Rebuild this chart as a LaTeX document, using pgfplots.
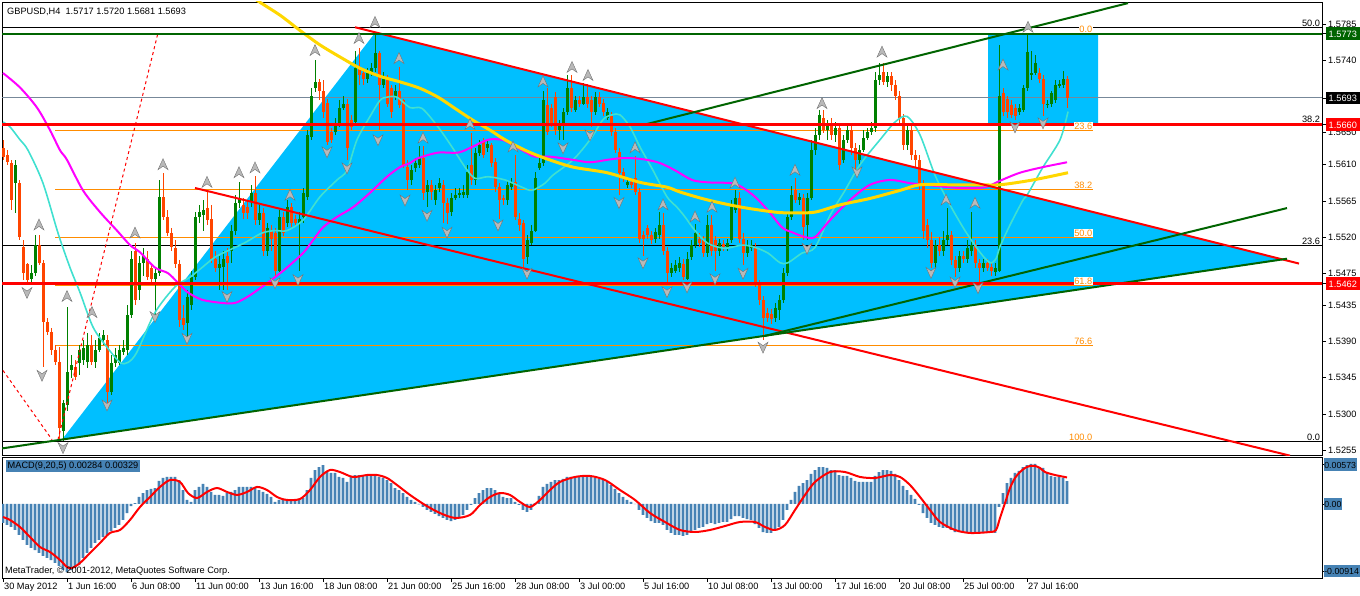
\documentclass[border=0pt]{standalone}
\usepackage{pgfplots}
\pgfplotsset{compat=1.18}
\usepackage{pgfplotstable}
\usepackage{fontspec}
\setmainfont{Liberation Sans}
\definecolor{bull}{HTML}{008000}
\definecolor{bear}{HTML}{FF4500}
\definecolor{sky}{HTML}{00BFFF}
\definecolor{turq}{HTML}{40E0D0}
\definecolor{mag}{HTML}{FF00FF}
\definecolor{gold}{HTML}{FFD700}
\definecolor{dgreen}{HTML}{006400}
\definecolor{dorange}{HTML}{FF8C00}
\definecolor{slate}{HTML}{778899}
\definecolor{steel}{HTML}{4682B4}
\newcommand\mtfont{\fontsize{9.25}{11}\selectfont}
\newcommand\mlfont{\fontsize{8.8}{11}\selectfont}
\newcommand\pl[2]{{\setlength\fboxsep{0pt}\colorbox{#1}{\rule[-2.5bp]{0pt}{12.5bp}\hspace{2.5bp}\textcolor{white}{#2}\hspace{4bp}}}}
\newcommand\ml[1]{{\setlength\fboxsep{0pt}\colorbox{steel}{\rule[-2.5bp]{0pt}{12.5bp}\hspace{0.6bp}#1\hspace{0.6bp}}}}
\pgfdeclareplotmark{fup}{%
  \pgfpathmoveto{\pgfqpoint{0bp}{6bp}}%
  \pgfpathlineto{\pgfqpoint{5bp}{-5bp}}%
  \pgfpathlineto{\pgfqpoint{0bp}{-1.5bp}}%
  \pgfpathlineto{\pgfqpoint{-5bp}{-5bp}}%
  \pgfpathclose\pgfusepathqfillstroke}
\pgfdeclareplotmark{fdn}{%
  \pgfpathmoveto{\pgfqpoint{0bp}{-6bp}}%
  \pgfpathlineto{\pgfqpoint{5bp}{5bp}}%
  \pgfpathlineto{\pgfqpoint{0bp}{1.5bp}}%
  \pgfpathlineto{\pgfqpoint{-5bp}{5bp}}%
  \pgfpathclose\pgfusepathqfillstroke}

\pgfplotstableread{
x o h l c
3 1.5631 1.5641 1.5616 1.5620
7 1.5622 1.5628 1.5610 1.5613
11 1.5612 1.5616 1.5553 1.5566
15 1.5587 1.5616 1.5550 1.5610
19 1.5587 1.5591 1.5516 1.5520
23 1.5507 1.5516 1.5467 1.5475
27 1.5487 1.5488 1.5461 1.5467
31 1.5468 1.5485 1.5463 1.5475
35 1.5475 1.5522 1.5472 1.5510
39 1.5510 1.5522 1.5485 1.5488
43 1.5488 1.5491 1.5358 1.5414
47 1.5414 1.5419 1.5398 1.5402
51 1.5402 1.5407 1.5373 1.5379
55 1.5379 1.5386 1.5361 1.5364
59 1.5364 1.5383 1.5267 1.5282
63 1.5279 1.5317 1.5266 1.5313
67 1.5311 1.5433 1.5304 1.5352
71 1.5354 1.5373 1.5344 1.5361
75 1.5358 1.5367 1.5342 1.5346
79 1.5363 1.5386 1.5348 1.5379
83 1.5367 1.5392 1.5361 1.5382
87 1.5364 1.5401 1.5357 1.5386
91 1.5386 1.5398 1.5361 1.5364
95 1.5364 1.5392 1.5357 1.5379
99 1.5379 1.5401 1.5377 1.5394
103 1.5392 1.5404 1.5386 1.5398
107 1.5392 1.5398 1.5311 1.5327
111 1.5327 1.5373 1.5323 1.5363
115 1.5363 1.5382 1.5358 1.5373
119 1.5363 1.5386 1.5361 1.5379
123 1.5377 1.5392 1.5373 1.5382
127 1.5379 1.5436 1.5373 1.5423
131 1.5423 1.5503 1.5419 1.5493
135 1.5503 1.5512 1.5436 1.5442
139 1.5454 1.5497 1.5442 1.5488
143 1.5488 1.5506 1.5472 1.5497
147 1.5493 1.5503 1.5467 1.5470
151 1.5481 1.5488 1.5461 1.5468
155 1.5468 1.5481 1.5417 1.5475
159 1.5475 1.5591 1.5471 1.5570
163 1.5570 1.5600 1.5541 1.5545
167 1.5545 1.5553 1.5521 1.5525
171 1.5525 1.5531 1.5503 1.5507
175 1.5506 1.5516 1.5481 1.5487
179 1.5487 1.5491 1.5408 1.5417
183 1.5419 1.5436 1.5404 1.5411
187 1.5413 1.5454 1.5394 1.5446
191 1.5436 1.5478 1.5429 1.5470
195 1.5470 1.5551 1.5467 1.5545
199 1.5545 1.5560 1.5538 1.5551
203 1.5547 1.5566 1.5528 1.5553
207 1.5556 1.5578 1.5535 1.5541
211 1.5543 1.5560 1.5488 1.5493
215 1.5493 1.5503 1.5476 1.5481
219 1.5481 1.5497 1.5454 1.5487
223 1.5483 1.5503 1.5454 1.5493
227 1.5497 1.5506 1.5454 1.5488
231 1.5503 1.5535 1.5488 1.5528
235 1.5528 1.5572 1.5522 1.5562
239 1.5562 1.5588 1.5556 1.5568
243 1.5560 1.5568 1.5543 1.5550
247 1.5557 1.5566 1.5543 1.5550
251 1.5563 1.5585 1.5557 1.5575
255 1.5575 1.5596 1.5535 1.5541
259 1.5541 1.5560 1.5535 1.5550
263 1.5550 1.5556 1.5497 1.5503
267 1.5503 1.5538 1.5497 1.5531
271 1.5528 1.5535 1.5503 1.5518
275 1.5525 1.5531 1.5471 1.5478
279 1.5478 1.5553 1.5476 1.5545
283 1.5545 1.5551 1.5521 1.5525
287 1.5538 1.5566 1.5533 1.5557
291 1.5557 1.5562 1.5533 1.5537
295 1.5543 1.5548 1.5533 1.5538
299 1.5538 1.5551 1.5478 1.5543
303 1.5545 1.5581 1.5538 1.5575
307 1.5570 1.5653 1.5566 1.5647
311 1.5645 1.5705 1.5641 1.5696
315 1.5706 1.5740 1.5700 1.5713
319 1.5713 1.5717 1.5690 1.5702
323 1.5702 1.5715 1.5668 1.5675
327 1.5687 1.5692 1.5635 1.5638
331 1.5651 1.5656 1.5637 1.5641
335 1.5651 1.5668 1.5647 1.5662
339 1.5662 1.5690 1.5657 1.5681
343 1.5681 1.5696 1.5678 1.5686
347 1.5686 1.5692 1.5616 1.5631
351 1.5666 1.5672 1.5653 1.5657
355 1.5663 1.5752 1.5660 1.5730
359 1.5730 1.5755 1.5709 1.5721
363 1.5724 1.5730 1.5709 1.5717
367 1.5717 1.5730 1.5712 1.5724
371 1.5724 1.5737 1.5720 1.5730
375 1.5730 1.5774 1.5725 1.5749
379 1.5749 1.5752 1.5653 1.5709
383 1.5709 1.5725 1.5705 1.5717
387 1.5717 1.5721 1.5682 1.5686
391 1.5705 1.5709 1.5668 1.5676
395 1.5694 1.5709 1.5690 1.5702
399 1.5702 1.5731 1.5680 1.5684
403 1.5690 1.5692 1.5606 1.5610
407 1.5607 1.5616 1.5578 1.5591
411 1.5591 1.5610 1.5585 1.5603
415 1.5606 1.5618 1.5601 1.5612
419 1.5610 1.5633 1.5606 1.5618
423 1.5618 1.5633 1.5566 1.5575
427 1.5576 1.5591 1.5557 1.5585
431 1.5585 1.5591 1.5566 1.5576
435 1.5566 1.5585 1.5560 1.5578
439 1.5581 1.5593 1.5576 1.5587
443 1.5585 1.5591 1.5538 1.5562
447 1.5562 1.5568 1.5536 1.5550
451 1.5551 1.5575 1.5546 1.5568
455 1.5568 1.5581 1.5566 1.5572
459 1.5572 1.5581 1.5568 1.5575
463 1.5572 1.5585 1.5568 1.5576
467 1.5572 1.5610 1.5568 1.5601
471 1.5610 1.5650 1.5585 1.5591
475 1.5591 1.5631 1.5585 1.5625
479 1.5625 1.5641 1.5621 1.5635
483 1.5638 1.5643 1.5618 1.5622
487 1.5631 1.5641 1.5626 1.5636
491 1.5635 1.5637 1.5607 1.5612
495 1.5613 1.5618 1.5576 1.5582
499 1.5582 1.5587 1.5543 1.5566
503 1.5568 1.5572 1.5560 1.5566
507 1.5566 1.5591 1.5560 1.5585
511 1.5582 1.5593 1.5578 1.5588
515 1.5588 1.5622 1.5541 1.5545
519 1.5543 1.5550 1.5528 1.5535
523 1.5537 1.5541 1.5483 1.5493
527 1.5495 1.5522 1.5487 1.5516
531 1.5513 1.5535 1.5510 1.5528
535 1.5528 1.5601 1.5526 1.5593
539 1.5606 1.5618 1.5603 1.5612
543 1.5612 1.5702 1.5608 1.5690
547 1.5684 1.5705 1.5647 1.5651
551 1.5680 1.5685 1.5657 1.5662
555 1.5694 1.5700 1.5647 1.5653
559 1.5653 1.5666 1.5641 1.5660
563 1.5660 1.5680 1.5641 1.5675
567 1.5675 1.5721 1.5672 1.5705
571 1.5705 1.5721 1.5676 1.5680
575 1.5678 1.5696 1.5675 1.5690
579 1.5690 1.5695 1.5682 1.5686
583 1.5686 1.5711 1.5684 1.5694
587 1.5694 1.5710 1.5680 1.5686
591 1.5690 1.5695 1.5657 1.5676
595 1.5676 1.5700 1.5672 1.5694
599 1.5694 1.5700 1.5682 1.5686
603 1.5687 1.5692 1.5671 1.5676
607 1.5668 1.5680 1.5665 1.5675
611 1.5670 1.5675 1.5646 1.5651
615 1.5651 1.5656 1.5625 1.5628
619 1.5626 1.5631 1.5572 1.5600
623 1.5601 1.5606 1.5588 1.5593
627 1.5585 1.5593 1.5581 1.5588
631 1.5588 1.5593 1.5581 1.5585
635 1.5593 1.5621 1.5572 1.5576
639 1.5576 1.5581 1.5513 1.5518
643 1.5522 1.5528 1.5497 1.5518
647 1.5531 1.5535 1.5518 1.5522
651 1.5522 1.5527 1.5511 1.5516
655 1.5518 1.5531 1.5513 1.5526
659 1.5522 1.5551 1.5518 1.5535
663 1.5535 1.5550 1.5498 1.5503
667 1.5503 1.5508 1.5461 1.5475
671 1.5475 1.5488 1.5470 1.5482
675 1.5478 1.5491 1.5475 1.5485
679 1.5481 1.5495 1.5476 1.5488
683 1.5487 1.5493 1.5467 1.5470
687 1.5468 1.5501 1.5466 1.5493
691 1.5495 1.5516 1.5491 1.5510
695 1.5510 1.5536 1.5506 1.5525
699 1.5518 1.5525 1.5507 1.5512
703 1.5516 1.5521 1.5495 1.5500
707 1.5500 1.5547 1.5495 1.5535
711 1.5535 1.5547 1.5497 1.5503
715 1.5516 1.5521 1.5478 1.5503
719 1.5503 1.5518 1.5497 1.5512
723 1.5511 1.5516 1.5503 1.5507
727 1.5507 1.5518 1.5503 1.5512
731 1.5516 1.5566 1.5512 1.5557
735 1.5553 1.5578 1.5550 1.5568
739 1.5568 1.5576 1.5513 1.5518
743 1.5518 1.5525 1.5485 1.5500
747 1.5500 1.5516 1.5495 1.5510
751 1.5506 1.5516 1.5503 1.5510
755 1.5507 1.5512 1.5458 1.5463
759 1.5463 1.5467 1.5436 1.5442
763 1.5442 1.5447 1.5392 1.5419
767 1.5426 1.5432 1.5414 1.5419
771 1.5424 1.5430 1.5412 1.5418
775 1.5419 1.5438 1.5414 1.5432
779 1.5429 1.5448 1.5417 1.5442
783 1.5442 1.5481 1.5438 1.5475
787 1.5475 1.5551 1.5471 1.5545
791 1.5545 1.5583 1.5541 1.5572
795 1.5578 1.5593 1.5562 1.5566
799 1.5566 1.5575 1.5560 1.5570
803 1.5568 1.5573 1.5516 1.5532
807 1.5535 1.5575 1.5516 1.5568
811 1.5568 1.5641 1.5566 1.5628
815 1.5628 1.5656 1.5622 1.5647
819 1.5647 1.5678 1.5641 1.5672
823 1.5668 1.5678 1.5650 1.5653
827 1.5653 1.5666 1.5641 1.5660
831 1.5660 1.5668 1.5641 1.5647
835 1.5647 1.5663 1.5638 1.5656
839 1.5656 1.5660 1.5603 1.5610
843 1.5616 1.5647 1.5612 1.5641
847 1.5641 1.5660 1.5637 1.5653
851 1.5653 1.5660 1.5622 1.5631
855 1.5631 1.5637 1.5603 1.5616
859 1.5616 1.5635 1.5610 1.5628
863 1.5628 1.5653 1.5626 1.5643
867 1.5643 1.5656 1.5641 1.5651
871 1.5651 1.5663 1.5647 1.5656
875 1.5656 1.5725 1.5651 1.5715
879 1.5715 1.5737 1.5709 1.5721
883 1.5725 1.5737 1.5709 1.5713
887 1.5713 1.5725 1.5707 1.5720
891 1.5720 1.5725 1.5702 1.5709
895 1.5709 1.5715 1.5690 1.5696
899 1.5696 1.5702 1.5660 1.5668
903 1.5668 1.5673 1.5628 1.5635
907 1.5635 1.5660 1.5628 1.5653
911 1.5653 1.5658 1.5616 1.5622
915 1.5622 1.5628 1.5606 1.5616
919 1.5616 1.5622 1.5578 1.5585
923 1.5585 1.5591 1.5518 1.5528
927 1.5535 1.5543 1.5506 1.5516
931 1.5516 1.5526 1.5481 1.5488
935 1.5488 1.5516 1.5481 1.5510
939 1.5510 1.5520 1.5497 1.5503
943 1.5503 1.5528 1.5497 1.5516
947 1.5516 1.5556 1.5510 1.5522
951 1.5522 1.5528 1.5485 1.5491
955 1.5491 1.5497 1.5470 1.5481
959 1.5481 1.5503 1.5476 1.5497
963 1.5497 1.5503 1.5488 1.5493
967 1.5493 1.5516 1.5488 1.5506
971 1.5503 1.5551 1.5497 1.5510
975 1.5510 1.5516 1.5481 1.5488
979 1.5488 1.5493 1.5463 1.5481
983 1.5481 1.5493 1.5476 1.5488
987 1.5488 1.5493 1.5478 1.5482
991 1.5483 1.5488 1.5472 1.5478
995 1.5476 1.5488 1.5472 1.5481
999 1.5478 1.5759 1.5476 1.5696
1003 1.5699 1.5705 1.5671 1.5675
1007 1.5692 1.5696 1.5668 1.5675
1011 1.5684 1.5690 1.5668 1.5672
1015 1.5681 1.5686 1.5666 1.5670
1019 1.5676 1.5686 1.5672 1.5681
1023 1.5678 1.5709 1.5675 1.5705
1027 1.5705 1.5773 1.5702 1.5750
1031 1.5721 1.5752 1.5715 1.5724
1035 1.5724 1.5746 1.5721 1.5736
1039 1.5724 1.5730 1.5712 1.5717
1043 1.5717 1.5721 1.5670 1.5686
1047 1.5684 1.5690 1.5680 1.5686
1051 1.5686 1.5702 1.5682 1.5699
1055 1.5690 1.5715 1.5687 1.5709
1059 1.5709 1.5715 1.5706 1.5710
1063 1.5709 1.5727 1.5706 1.5717
1067 1.5717 1.5720 1.5681 1.5693
}\candles

\pgfplotstableread{
x v
3 -0.00235
7 -0.00260
11 -0.00285
15 -0.00322
19 -0.00384
23 -0.00446
27 -0.00508
31 -0.00545
35 -0.00570
39 -0.00607
43 -0.00644
47 -0.00669
51 -0.00694
55 -0.00731
59 -0.00768
63 -0.00818
67 -0.00843
71 -0.00818
75 -0.00793
79 -0.00756
83 -0.00669
87 -0.00607
91 -0.00545
95 -0.00483
99 -0.00446
103 -0.00409
107 -0.00384
111 -0.00335
115 -0.00297
119 -0.00260
123 -0.00198
127 -0.00112
131 -0.00025
135 0.00012
139 0.00087
143 0.00136
147 0.00173
151 0.00186
155 0.00198
159 0.00285
163 0.00322
167 0.00335
171 0.00335
175 0.00335
179 0.00297
183 0.00173
187 0.00050
191 0.00025
195 0.00173
199 0.00211
203 0.00248
207 0.00211
211 0.00149
215 0.00112
219 0.00112
223 0.00099
227 0.00136
231 0.00149
235 0.00173
239 0.00211
243 0.00211
247 0.00211
251 0.00211
255 0.00198
259 0.00173
263 0.00149
267 0.00124
271 0.00087
275 0.00025
279 0.00050
283 0.00050
287 0.00050
291 0.00050
295 0.00050
299 0.00062
303 0.00074
307 0.00173
311 0.00322
315 0.00421
319 0.00458
323 0.00483
327 0.00396
331 0.00384
335 0.00384
339 0.00335
343 0.00322
347 0.00273
351 0.00335
355 0.00359
359 0.00359
363 0.00359
367 0.00359
371 0.00359
375 0.00359
379 0.00335
383 0.00322
387 0.00297
391 0.00260
395 0.00198
399 0.00173
403 0.00136
407 0.00087
411 0.00050
415 0.00025
419 -0.00005
423 -0.00037
427 -0.00074
431 -0.00099
435 -0.00124
439 -0.00149
443 -0.00173
447 -0.00198
451 -0.00211
455 -0.00198
459 -0.00173
463 -0.00136
467 -0.00074
471 -0.00012
475 0.00074
479 0.00136
483 0.00173
487 0.00198
491 0.00198
495 0.00173
499 0.00124
503 0.00087
507 0.00074
511 0.00074
515 0.00025
519 -0.00012
523 -0.00074
527 -0.00099
531 -0.00074
535 0.00012
539 0.00099
543 0.00211
547 0.00248
551 0.00273
555 0.00297
559 0.00297
563 0.00310
567 0.00335
571 0.00335
575 0.00335
579 0.00335
583 0.00347
587 0.00347
591 0.00335
595 0.00322
599 0.00310
603 0.00297
607 0.00273
611 0.00235
615 0.00186
619 0.00136
623 0.00087
627 0.00050
631 0.00025
635 -0.00003
639 -0.00074
643 -0.00136
647 -0.00173
651 -0.00211
655 -0.00235
659 -0.00235
663 -0.00260
667 -0.00322
671 -0.00359
675 -0.00384
679 -0.00384
683 -0.00396
687 -0.00384
691 -0.00359
695 -0.00322
699 -0.00297
703 -0.00285
707 -0.00248
711 -0.00235
715 -0.00248
719 -0.00235
723 -0.00223
727 -0.00223
731 -0.00186
735 -0.00149
739 -0.00149
743 -0.00173
747 -0.00186
751 -0.00198
755 -0.00248
759 -0.00297
763 -0.00347
767 -0.00359
771 -0.00359
775 -0.00322
779 -0.00285
783 -0.00198
787 -0.00074
791 0.00050
795 0.00149
799 0.00223
803 0.00260
807 0.00297
811 0.00372
815 0.00421
819 0.00458
823 0.00458
827 0.00446
831 0.00421
835 0.00421
839 0.00359
843 0.00347
847 0.00347
851 0.00322
855 0.00285
859 0.00273
863 0.00273
867 0.00273
871 0.00273
875 0.00347
879 0.00396
883 0.00421
887 0.00421
891 0.00409
895 0.00372
899 0.00297
903 0.00223
907 0.00173
911 0.00112
915 0.00062
919 -0.00012
923 -0.00112
927 -0.00173
931 -0.00235
935 -0.00260
939 -0.00285
943 -0.00297
947 -0.00297
951 -0.00322
955 -0.00347
959 -0.00347
963 -0.00359
967 -0.00359
971 -0.00347
975 -0.00359
979 -0.00359
983 -0.00359
987 -0.00359
991 -0.00359
995 -0.00359
999 -0.00037
1003 0.00136
1007 0.00260
1011 0.00322
1015 0.00384
1019 0.00409
1023 0.00458
1027 0.00483
1031 0.00496
1035 0.00496
1039 0.00458
1043 0.00446
1047 0.00384
1051 0.00347
1055 0.00335
1059 0.00335
1063 0.00322
1067 0.00284
}\macdhist

\begin{document}
\begin{tikzpicture}[x=1bp,y=1bp]
\useasboundingbox (0,0) rectangle (1360,-596);
\begin{axis}[
  at={(2bp,-455bp)}, anchor=south west,
  scale only axis, width=1320bp, height=453bp,
  xmin=2, xmax=1322, ymin=1.52488, ymax=1.58124,
  xtick=\empty, scaled ticks=false,
  ytick={1.5255,1.5300,1.5345,1.5390,1.5435,1.5475,1.5520,1.5565,1.5610,1.5650,1.5740,1.5785},
  yticklabels={1.5255,1.5300,1.5345,1.5390,1.5435,1.5475,1.5520,1.5565,1.5610,1.5650,1.5740,1.5785},
  ytick pos=right, yticklabel pos=right, ytick align=outside,
  major tick length=4bp,
  tick style={black, line width=0.7bp},
  yticklabel style={anchor=west, inner sep=0pt, xshift=2bp, font=\mtfont},
  extra y ticks={1.5773,1.5693,1.5660,1.5462},
  extra y tick labels={{\pl{dgreen}{1.5773}},{\pl{black}{1.5693}},{\pl{red}{1.5660}},{\pl{red}{1.5462}}},
  extra y tick style={yticklabel style={xshift=-2bp}},
  axis line style={black, line width=0.8bp},
]
% background objects
\addplot[fill=sky, draw=none, forget plot] coordinates {(62,1.5268) (375,1.5774) (1285,1.5492) (62,1.5268)};
\addplot[fill=sky, draw=none, forget plot] coordinates {(988,1.5773) (1098,1.5773) (1098,1.5661) (988,1.5661) (988,1.5773)};
% fibo (orange) and other thin levels
\addplot[dorange, line width=1bp, forget plot] coordinates {(55,1.5653) (1093,1.5653)};
\addplot[dorange, line width=1bp, forget plot] coordinates {(55,1.5579) (1093,1.5579)};
\addplot[dorange, line width=1bp, forget plot] coordinates {(55,1.5520) (1093,1.5520)};
\addplot[dorange, line width=1bp, forget plot] coordinates {(55,1.5460) (1093,1.5460)};
\addplot[dorange, line width=1bp, forget plot] coordinates {(55,1.5385) (1093,1.5385)};
\addplot[dorange, line width=1bp, forget plot] coordinates {(55,1.5266) (1093,1.5266)};
\addplot[black, line width=1bp, forget plot] coordinates {(2,1.5781) (1322,1.5781)};
\addplot[black, line width=1bp, forget plot] coordinates {(2,1.5509) (1322,1.5509)};
\addplot[black, line width=1bp, forget plot] coordinates {(2,1.5266) (1093,1.5266)};
\addplot[black, line width=1bp, forget plot] coordinates {(1093,1.5266) (1322,1.5266)};
\addplot[slate, line width=1bp, forget plot] coordinates {(2,1.5693) (1322,1.5693)};
% candles
\addplot[draw=none, mark=none, forget plot,
  restrict expr to domain={\thisrow{c}-\thisrow{o}}{0:1},
  error bars/.cd, y dir=both, y explicit, error mark=none,
  error bar style={draw=bull, line width=1bp}]
  table[x=x, y expr={0.5*(\thisrow{h}+\thisrow{l})}, y error expr={0.5*(\thisrow{h}-\thisrow{l})}]{\candles};
\addplot[draw=none, mark=none, forget plot,
  restrict expr to domain={\thisrow{c}-\thisrow{o}}{0:1},
  error bars/.cd, y dir=both, y explicit, error mark=none,
  error bar style={draw=bull, line width=3bp}]
  table[x=x, y expr={0.5*(\thisrow{o}+\thisrow{c})}, y error expr={0.5*(\thisrow{c}-\thisrow{o})}]{\candles};
\addplot[draw=none, mark=none, forget plot,
  restrict expr to domain={\thisrow{c}-\thisrow{o}}{-1:-0.00001},
  error bars/.cd, y dir=both, y explicit, error mark=none,
  error bar style={draw=bear, line width=1bp}]
  table[x=x, y expr={0.5*(\thisrow{h}+\thisrow{l})}, y error expr={0.5*(\thisrow{h}-\thisrow{l})}]{\candles};
\addplot[draw=none, mark=none, forget plot,
  restrict expr to domain={\thisrow{c}-\thisrow{o}}{-1:-0.00001},
  error bars/.cd, y dir=both, y explicit, error mark=none,
  error bar style={draw=bear, line width=3bp}]
  table[x=x, y expr={0.5*(\thisrow{o}+\thisrow{c})}, y error expr={0.5*(\thisrow{o}-\thisrow{c})}]{\candles};
% moving averages
\addplot[turq, line width=1.6bp, smooth, forget plot] coordinates {(3,1.5663)(10,1.5657)(20,1.5641)(28,1.5628)(43,1.5587)(58,1.5525)(70,1.5482)(80,1.5451)(93,1.5408)(107,1.5383)(120,1.5364)(128,1.5364)(137,1.5377)(155,1.5426)(175,1.5458)(190,1.5470)(202,1.5482)(215,1.5495)(228,1.5503)(245,1.5513)(262,1.5525)(275,1.5528)(287,1.5528)(303,1.5541)(320,1.5570)(337,1.5591)(347,1.5603)(357,1.5641)(370,1.5670)(380,1.5690)(387,1.5694)(397,1.5694)(410,1.5681)(422,1.5680)(438,1.5657)(452,1.5632)(465,1.5607)(475,1.5593)(488,1.5595)(505,1.5591)(522,1.5582)(532,1.5578)(545,1.5587)(553,1.5597)(573,1.5616)(590,1.5641)(603,1.5666)(612,1.5672)(620,1.5672)(630,1.5657)(640,1.5632)(653,1.5603)(667,1.5570)(677,1.5557)(685,1.5545)(695,1.5528)(708,1.5512)(725,1.5506)(742,1.5510)(755,1.5507)(768,1.5500)(780,1.5488)(788,1.5488)(802,1.5500)(815,1.5507)(830,1.5547)(845,1.5578)(860,1.5610)(880,1.5641)(895,1.5663)(907,1.5670)(920,1.5647)(935,1.5597)(950,1.5560)(965,1.5528)(980,1.5501)(990,1.5488)(996,1.5493)(1000,1.5508)(1010,1.5535)(1023,1.5566)(1027,1.5572)(1043,1.5607)(1060,1.5641)(1068,1.5676)};
\addplot[mag, line width=2bp, smooth, forget plot] coordinates {(3,1.5724)(20,1.5706)(37,1.5681)(50,1.5653)(60,1.5628)(67,1.5616)(83,1.5578)(100,1.5551)(117,1.5528)(130,1.5510)(140,1.5501)(155,1.5482)(168,1.5475)(178,1.5463)(188,1.5451)(202,1.5442)(222,1.5438)(235,1.5438)(248,1.5446)(262,1.5458)(275,1.5470)(287,1.5482)(303,1.5500)(313,1.5516)(323,1.5532)(337,1.5545)(353,1.5557)(370,1.5575)(387,1.5595)(400,1.5607)(410,1.5612)(418,1.5618)(438,1.5625)(458,1.5625)(472,1.5632)(488,1.5641)(502,1.5641)(512,1.5635)(525,1.5626)(535,1.5620)(550,1.5620)(573,1.5616)(590,1.5613)(607,1.5616)(620,1.5618)(633,1.5618)(647,1.5616)(660,1.5612)(675,1.5603)(692,1.5591)(708,1.5588)(732,1.5587)(742,1.5582)(755,1.5570)(768,1.5553)(782,1.5532)(792,1.5526)(805,1.5520)(815,1.5520)(830,1.5541)(850,1.5566)(870,1.5585)(890,1.5591)(910,1.5587)(925,1.5585)(960,1.5581)(985,1.5582)(1000,1.5590)(1020,1.5600)(1043,1.5607)(1067,1.5613)};
\addplot[gold, line width=3bp, smooth, forget plot] coordinates {(245,1.5825)(260,1.5812)(280,1.5796)(300,1.5777)(320,1.5759)(340,1.5744)(360,1.5730)(380,1.5720)(400,1.5713)(420,1.5705)(438,1.5694)(455,1.5680)(472,1.5666)(490,1.5653)(505,1.5641)(525,1.5628)(545,1.5618)(573,1.5607)(607,1.5600)(640,1.5588)(667,1.5582)(680,1.5576)(708,1.5566)(742,1.5557)(775,1.5551)(792,1.5550)(815,1.5551)(840,1.5560)(870,1.5568)(900,1.5578)(920,1.5585)(950,1.5585)(980,1.5585)(1000,1.5585)(1033,1.5591)(1068,1.5600)};
% trend lines
\addplot[red, line width=2bp, forget plot] coordinates {(355,1.5781) (1299,1.5487)};
\addplot[red, line width=2bp, forget plot] coordinates {(195,1.5581) (1290,1.5248)};
\addplot[red, line width=1bp, dash pattern=on 3bp off 3bp, forget plot] coordinates {(58,1.5268) (158,1.5774)};
\addplot[red, line width=1bp, dash pattern=on 3bp off 3bp, forget plot] coordinates {(3,1.5354) (52,1.5268)};
\addplot[dgreen, line width=2bp, forget plot] coordinates {(645,1.5660) (1128,1.5811)};
\addplot[dgreen, line width=2bp, forget plot] coordinates {(2,1.5257) (1287,1.5493)};
\addplot[dgreen, line width=2bp, forget plot] coordinates {(765,1.5397) (1287,1.5556)};
% horizontal levels
\addplot[red, line width=2.5bp, forget plot] coordinates {(2,1.5660) (1322,1.5660)};
\addplot[red, line width=2.5bp, forget plot] coordinates {(2,1.5462) (1322,1.5462)};
\addplot[dgreen, line width=2.2bp, forget plot] coordinates {(2,1.5773) (1322,1.5773)};
% fractals
\addplot[only marks, mark=fup, mark options={fill=gray!55, draw=gray!90!black, line width=0.4bp}, forget plot] coordinates {(39,1.5535)(67,1.5446)(92,1.5426)(135,1.5525)(163,1.5610)(207,1.5588)(239,1.5600)(255,1.5606)(290,1.5572)(315,1.5752)(359,1.5767)(375,1.5787)(399,1.5742)(423,1.5643)(470,1.5660)(513,1.5632)(543,1.5713)(572,1.5731)(588,1.5721)(635,1.5631)(663,1.5560)(695,1.5545)(712,1.5557)(735,1.5587)(795,1.5603)(822,1.5686)(882,1.5750)(946,1.5566)(975,1.5562)(1003,1.5734)(1028,1.5781)};
\addplot[only marks, mark=fdn, mark options={fill=gray!55, draw=gray!90!black, line width=0.4bp}, forget plot] coordinates {(27,1.5451)(42,1.5348)(63,1.5258)(107,1.5311)(155,1.5421)(187,1.5394)(227,1.5446)(275,1.5463)(298,1.5467)(327,1.5626)(347,1.5606)(378,1.5641)(405,1.5566)(427,1.5547)(447,1.5526)(498,1.5535)(527,1.5475)(563,1.5631)(590,1.5647)(619,1.5563)(643,1.5488)(667,1.5452)(687,1.5458)(715,1.5468)(743,1.5475)(763,1.5383)(807,1.5506)(857,1.5601)(931,1.5476)(955,1.5464)(978,1.5457)(1015,1.5657)(1043,1.5662)};
% labels
\node[anchor=west, inner sep=0pt, font=\mtfont, xshift=5bp, yshift=-10bp] at (rel axis cs:0,1) {GBPUSD,H4\ \ 1.5717 1.5720 1.5681 1.5693};
\foreach \lv/\lt in {1.5773/0.0, 1.5653/23.6, 1.5579/38.2, 1.5520/50.0, 1.5460/61.8, 1.5385/76.6, 1.5266/100.0}{
  \edef\tmp{\noexpand\node[anchor=south east, fill=white, text=dorange, inner sep=0.6bp, font=\noexpand\mtfont] at (axis cs:1093,\lv) {\lt};}\tmp
}
\foreach \lv/\lt in {1.5781/50.0, 1.5661/38.2, 1.5509/23.6, 1.5266/0.0}{
  \edef\tmp{\noexpand\node[anchor=south east, text=black, inner sep=0.8bp, font=\noexpand\mtfont] at (axis cs:1321,\lv) {\lt};}\tmp
}
\end{axis}

\begin{axis}[
  at={(2bp,-578bp)}, anchor=south west,
  scale only axis, width=1320bp, height=121bp,
  xmin=2, xmax=1322, ymin=-0.00917, ymax=0.00582,
  scaled ticks=false,
  xtick={3,67,131,195,259,323,387,451,515,579,643,707,771,835,899,963,1027},
  xticklabels={30 May 2012,1 Jun 16:00,6 Jun 08:00,11 Jun 00:00,13 Jun 16:00,18 Jun 08:00,21 Jun 00:00,25 Jun 16:00,28 Jun 08:00,3 Jul 00:00,5 Jul 16:00,10 Jul 08:00,13 Jul 00:00,17 Jul 16:00,20 Jul 08:00,25 Jul 00:00,27 Jul 16:00},
  xtick pos=left, xtick align=outside,
  xticklabel style={anchor=north west, inner sep=0pt, xshift=1bp, yshift=-1bp, font=\mtfont},
  ytick={-0.0083,0,0.0049},
  yticklabels={{\ml{-0.00914}},{\ml{0.00}},{\ml{0.00573}}},
  ytick pos=right, yticklabel pos=right, ytick align=outside,
  major tick length=4bp,
  tick style={black, line width=0.7bp},
  yticklabel style={anchor=west, inner sep=0pt, xshift=-2.5bp, font=\mlfont},
  axis line style={black, line width=0.8bp},
]
\addplot[ybar, bar width=2.8bp, fill=steel, draw=none, forget plot] table[x=x, y=v]{\macdhist};
\addplot[red, line width=2bp, smooth, forget plot] coordinates {(3,-0.00161)(10,-0.00198)(20,-0.00285)(30,-0.00409)(40,-0.00533)(50,-0.00595)(60,-0.00694)(67,-0.00781)(72,-0.00793)(80,-0.00731)(90,-0.00607)(100,-0.00483)(110,-0.00359)(120,-0.00322)(130,-0.00198)(140,-0.00037)(150,0.00087)(160,0.00211)(170,0.00297)(180,0.00273)(188,0.00136)(197,0.00074)(207,0.00149)(217,0.00198)(227,0.00149)(237,0.00112)(247,0.00149)(257,0.00211)(267,0.00173)(277,0.00087)(287,0.00050)(300,0.00062)(310,0.00173)(320,0.00335)(330,0.00421)(340,0.00396)(353,0.00335)(367,0.00359)(377,0.00359)(387,0.00322)(397,0.00235)(410,0.00112)(425,-0.00012)(440,-0.00112)(455,-0.00173)(470,-0.00136)(480,-0.00012)(490,0.00087)(500,0.00136)(510,0.00112)(520,0.00025)(530,-0.00037)(540,0.00050)(550,0.00173)(560,0.00273)(575,0.00335)(590,0.00347)(605,0.00297)(620,0.00173)(635,0.00050)(650,-0.00112)(665,-0.00223)(680,-0.00322)(695,-0.00347)(710,-0.00322)(725,-0.00273)(740,-0.00223)(755,-0.00223)(765,-0.00285)(775,-0.00322)(785,-0.00260)(795,-0.00074)(805,0.00112)(815,0.00273)(830,0.00396)(845,0.00396)(860,0.00335)(875,0.00322)(890,0.00359)(900,0.00335)(910,0.00235)(920,0.00087)(930,-0.00074)(940,-0.00223)(955,-0.00322)(970,-0.00359)(990,-0.00347)(996,-0.00322)(1000,-0.00173)(1005,0.00012)(1010,0.00198)(1015,0.00322)(1020,0.00396)(1025,0.00446)(1030,0.00471)(1035,0.00471)(1040,0.00446)(1045,0.00396)(1055,0.00359)(1067,0.00329)};
\node[anchor=north west, fill=steel, inner sep=1.5bp, font=\mtfont, xshift=4bp, yshift=-3bp] at (rel axis cs:0,1) {MACD(9,20,5) 0.00284 0.00329};
\node[anchor=south west, inner sep=0pt, font=\mtfont, xshift=3bp, yshift=2bp] at (rel axis cs:0,0) {MetaTrader, \copyright{} 2001-2012, MetaQuotes Software Corp.};
\end{axis}
\end{tikzpicture}
\end{document}
